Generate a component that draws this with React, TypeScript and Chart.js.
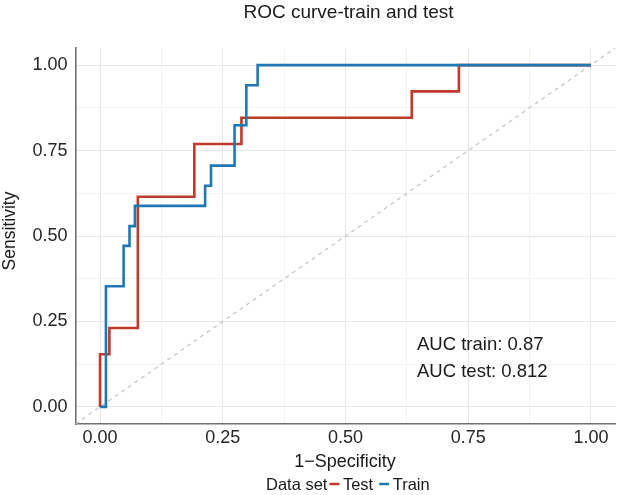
import React, { useEffect, useRef } from 'react';
import { Chart, registerables } from 'chart.js';

Chart.register(...registerables);

// ---- data ----
const trainFpr = [0, 0.012, 0.048, 0.06, 0.071, 0.214, 0.226, 0.274, 0.298, 0.321, 1.0];
const trainTpr = [0, 0.353, 0.471, 0.529, 0.588, 0.647, 0.706, 0.824, 0.941, 1.0, 1.0];
const testFpr = [0, 0, 0.019, 0.077, 0.192, 0.288, 0.635, 0.731, 1.0];
const testTpr = [0, 0.154, 0.231, 0.615, 0.769, 0.846, 0.923, 1.0, 1.0];
const diagX = [-0.05, 1.05];
const diagY = [-0.05, 1.05];
const gridValues = [0, 0.125, 0.25, 0.375, 0.5, 0.625, 0.75, 0.875, 1];
const tickLabels = ['0.00', '', '0.25', '', '0.50', '', '0.75', '', '1.00'];
const seriesNames = ['Test', 'Train'];
const aucLabels = ['AUC train: 0.87', 'AUC test: 0.812'];
const chartTitle = 'ROC curve-train and test';
const xTitle = '1\u2212Specificity';
const yTitle = 'Sensitivity';
const legendTitle = 'Data set';

const RED = '#c0392b';
const BLUE = '#1f77b4';
const FONT = "'Liberation Sans', Arial, Helvetica, sans-serif";

const toPoints = (xs: number[], ys: number[]) => xs.map((x, i) => ({ x, y: ys[i] }));

const textPlugin = {
  id: 'texts',
  afterDraw(chart: any) {
    const ctx = chart.ctx as CanvasRenderingContext2D;
    ctx.save();
    ctx.fillStyle = '#1a1a1a';
    // title
    ctx.font = `19px ${FONT}`;
    ctx.textAlign = 'center';
    ctx.textBaseline = 'alphabetic';
    ctx.fillText(chartTitle, 348.5, 17.5);
    // x title
    ctx.font = `18px ${FONT}`;
    ctx.fillText(xTitle, 345, 466.5);
    // y title
    ctx.save();
    ctx.translate(15, 231);
    ctx.rotate(-Math.PI / 2);
    ctx.font = `17.5px ${FONT}`;
    ctx.textAlign = 'center';
    ctx.fillText(yTitle, 0, 0);
    ctx.restore();
    // AUC annotations
    ctx.font = `18.5px ${FONT}`;
    ctx.textAlign = 'left';
    ctx.fillText(aucLabels[0], 417, 350);
    ctx.fillText(aucLabels[1], 417, 377);
    // legend
    ctx.font = `16.5px ${FONT}`;
    let x = 266;
    const by = 490;
    ctx.fillText(legendTitle, x, by);
    x += ctx.measureText(legendTitle).width + 2;
    const colors = [RED, BLUE];
    seriesNames.forEach((name, i) => {
      ctx.strokeStyle = colors[i];
      ctx.lineWidth = 2.5;
      ctx.beginPath();
      ctx.moveTo(x, by - 6);
      ctx.lineTo(x + 10, by - 6);
      ctx.stroke();
      x += 13.5;
      ctx.fillStyle = '#1a1a1a';
      ctx.fillText(name, x, by);
      x += ctx.measureText(name).width + 6;
    });
    ctx.restore();
  },
};

const gridColor = (ctx: any) => (tickLabels[ctx.index] === '' ? '#f3f3f3' : '#e8e8e8');

export default function App() {
  const ref = useRef<HTMLCanvasElement | null>(null);
  useEffect(() => {
    if (!ref.current) return;
    const chart = new Chart(ref.current, {
      type: 'scatter',
      data: {
        datasets: [
          {
            label: 'Train',
            data: toPoints(trainFpr, trainTpr),
            showLine: true,
            stepped: 'before',
            borderColor: BLUE,
            backgroundColor: BLUE,
            borderWidth: 2.6,
            pointRadius: 0,
            order: 0,
          },
          {
            label: 'Test',
            data: toPoints(testFpr, testTpr),
            showLine: true,
            stepped: 'before',
            borderColor: RED,
            backgroundColor: RED,
            borderWidth: 2.6,
            pointRadius: 0,
            order: 1,
          },
          {
            label: 'ref',
            data: toPoints(diagX, diagY),
            showLine: true,
            borderColor: '#c4c4c4',
            borderWidth: 1.2,
            borderDash: [4, 4],
            pointRadius: 0,
            order: 2,
          },
        ],
      } as any,
      options: {
        responsive: false,
        animation: false,
        devicePixelRatio: 1,
        layout: { padding: { top: 48, right: 2.5, left: 0, bottom: 0 } },
        plugins: {
          legend: { display: false },
          title: { display: false },
          tooltip: { enabled: false },
        },
        font: { family: FONT },
        scales: {
          x: {
            type: 'linear',
            min: -0.05,
            max: 1.05,
            afterBuildTicks: (scale: any) => {
              scale.ticks = gridValues.map((v) => ({ value: v }));
            },
            afterFit: (scale: any) => {
              scale.height = 71;
            },
            ticks: {
              autoSkip: false,
              maxRotation: 0,
              padding: 3,
              color: '#262626',
              font: { family: FONT, size: 18 },
              callback: (_v: any, i: number) => tickLabels[i],
            },
            grid: { color: gridColor, lineWidth: 1, drawTicks: false },
            border: { display: true, color: '#707070', width: 1.6 },
          },
          y: {
            type: 'linear',
            min: -0.05,
            max: 1.05,
            afterBuildTicks: (scale: any) => {
              scale.ticks = gridValues.map((v) => ({ value: v }));
            },
            afterFit: (scale: any) => {
              scale.width = 75.5;
            },
            ticks: {
              autoSkip: false,
              padding: 8,
              color: '#262626',
              font: { family: FONT, size: 18 },
              callback: (_v: any, i: number) => tickLabels[i],
            },
            grid: { color: gridColor, lineWidth: 1, drawTicks: false },
            border: { display: true, color: '#707070', width: 1.6 },
          },
        },
      } as any,
      plugins: [textPlugin],
    });
    return () => chart.destroy();
  }, []);
  return (
    <div style={{ position: 'fixed', left: 0, top: 0, width: 618, height: 495, background: '#fff' }}>
      <canvas ref={ref} width={618} height={495} style={{ width: 618, height: 495, display: 'block' }} />
    </div>
  );
}
